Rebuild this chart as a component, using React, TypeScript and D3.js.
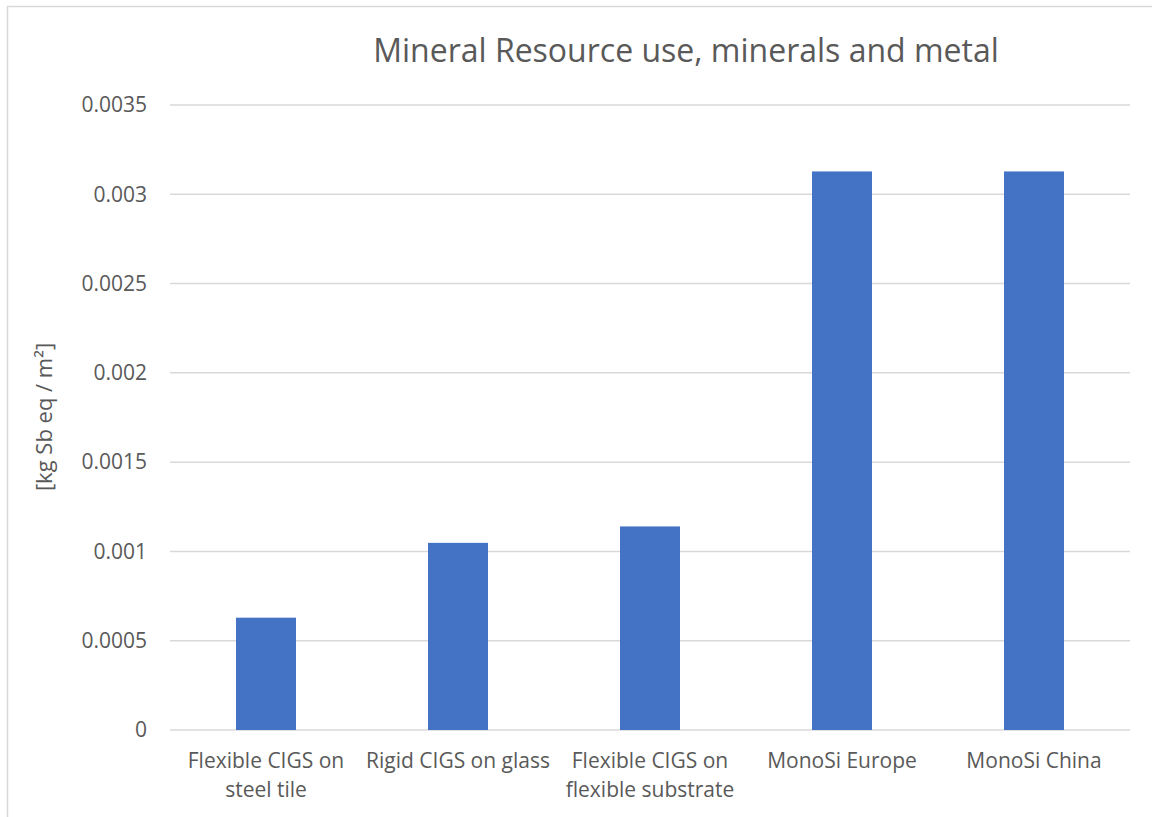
import React from "react";
import * as d3 from "d3";

const categories: string[][] = [
  ["Flexible CIGS on", "steel tile"],
  ["Rigid CIGS on glass"],
  ["Flexible CIGS on", "flexible substrate"],
  ["MonoSi Europe"],
  ["MonoSi China"],
];
const values: number[] = [0.000629, 0.001048, 0.00114, 0.003128, 0.003128];
const yTicks: number[] = [0, 0.0005, 0.001, 0.0015, 0.002, 0.0025, 0.003, 0.0035];
const yTickLabels: string[] = ["0", "0.0005", "0.001", "0.0015", "0.002", "0.0025", "0.003", "0.0035"];
const title = "Mineral Resource use, minerals and metal";
const yTitle = "[kg Sb eq / m²]";

export default function App() {
  const W = 1152, H = 817;
  const left = 170, right = 1130, top = 105, bottom = 730;
  const FONT = "'Open Sans', 'Noto Sans', sans-serif";
  const x = d3.scaleBand<number>().domain(d3.range(categories.length)).range([left, right]).paddingInner(0.6875).paddingOuter(0.34375);
  const y = d3.scaleLinear().domain([0, 0.0035]).range([bottom, top]);
  return (
    <svg width={W} height={H} style={{ position: "absolute", left: 0, top: 0 }}>
      <rect x={0} y={0} width={W} height={H} fill="#fff" />
      <rect x={7.5} y={6.5} width={W + 20} height={H + 20} fill="#fff" stroke="#d9d9d9" strokeWidth={1.5} />
      <text x={686} y={62} textAnchor="middle" fontFamily={FONT} fontSize={32} fill="#595959">{title}</text>
      {yTicks.map((t, i) => (
        <g key={i}>
          <line x1={left} x2={right} y1={y(t)} y2={y(t)} stroke="#d9d9d9" strokeWidth={1.5} />
          <text x={147} y={y(t)} dy="0.35em" textAnchor="end" fontFamily={FONT} fontSize={21} fill="#595959">{yTickLabels[i]}</text>
        </g>
      ))}
      <text transform={`translate(44,${417}) rotate(-90)`} textAnchor="middle" dy="0.35em" fontFamily={FONT} fontSize={22} fill="#595959">{yTitle}</text>
      {values.map((v, i) => (
        <rect key={i} x={x(i)} y={y(v)} width={x.bandwidth()} height={bottom - y(v)} fill="#4472C4" />
      ))}
      {categories.map((lines, i) => (
        <text key={i} textAnchor="middle" fontFamily={FONT} fontSize={21} fill="#595959">
          {lines.map((l, j) => (
            <tspan key={j} x={(x(i) as number) + x.bandwidth() / 2} y={768 + j * 29}>{l}</tspan>
          ))}
        </text>
      ))}
    </svg>
  );
}
